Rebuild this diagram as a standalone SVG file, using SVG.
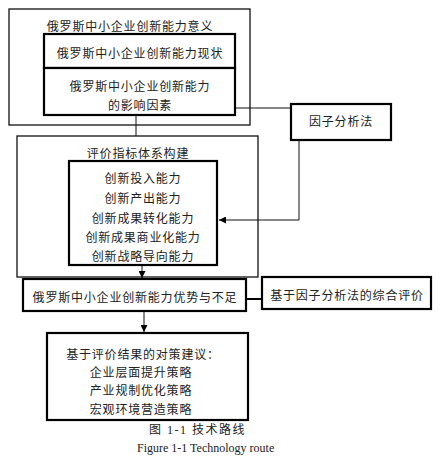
<svg xmlns="http://www.w3.org/2000/svg" width="442" height="467" viewBox="0 0 442 467">
<defs>
<style>
.t{font-family:"Noto Sans CJK SC","Liberation Sans",sans-serif;font-size:12px;letter-spacing:0.8px;fill:#222;text-anchor:middle;dominant-baseline:central}
.thin{fill:#fff;stroke:#111;stroke-width:1.3}
.thick{fill:#fff;stroke:#000;stroke-width:2.2}
.ln{fill:none;stroke:#111;stroke-width:1}
.cap{font-family:"Liberation Serif","Noto Sans CJK SC",serif;font-size:12px;fill:#222;dominant-baseline:central}
</style>
<marker id="arr" viewBox="0 0 10 10" refX="10" refY="5" markerWidth="7" markerHeight="7" markerUnits="userSpaceOnUse" orient="auto">
<path d="M0,0 L10,5 L0,10 Z" fill="#000"/>
</marker>
</defs>
<g id="significance">
<rect class="thin" x="9" y="9" width="241" height="116"/>
<text class="t" x="130" y="25">俄罗斯中小企业创新能力意义</text>
</g>
<g id="status">
<rect class="thick" x="44" y="34" width="191" height="34"/>
<text class="t" x="140" y="52">俄罗斯中小企业创新能力现状</text>
</g>
<g id="factors">
<rect class="thick" x="44" y="68" width="191" height="47"/>
<text class="t" x="140" y="85">俄罗斯中小企业创新能力</text>
<text class="t" x="140" y="104">的影响因素</text>
</g>
<g id="factor-analysis">
<rect class="thick" x="291" y="104" width="100" height="36"/>
<text class="t" x="341" y="120">因子分析法</text>
</g>
<g id="index-system">
<rect class="thin" x="17" y="136" width="241" height="141"/>
<text class="t" x="138" y="152">评价指标体系构建</text>
</g>
<g id="indicators">
<rect class="thick" x="69" y="161" width="148" height="104"/>
<text class="t" x="143" y="177">创新投入能力</text>
<text class="t" x="143" y="197">创新产出能力</text>
<text class="t" x="143" y="217">创新成果转化能力</text>
<text class="t" x="143" y="236">创新成果商业化能力</text>
<text class="t" x="143" y="255">创新战略导向能力</text>
</g>
<g id="strengths">
<rect class="thick" x="23" y="279" width="223" height="32"/>
<text class="t" x="135" y="296">俄罗斯中小企业创新能力优势与不足</text>
</g>
<g id="evaluation">
<rect class="thick" x="262" y="277" width="169" height="32"/>
<text class="t" x="347" y="294">基于因子分析法的综合评价</text>
</g>
<g id="suggestions">
<rect class="thick" x="47" y="333" width="201" height="87"/>
<text class="t" x="143" y="353">基于评价结果的对策建议：</text>
<text class="t" x="141" y="371">企业层面提升策略</text>
<text class="t" x="141" y="389">产业规制优化策略</text>
<text class="t" x="141" y="408">宏观环境营造策略</text>
</g>
<g id="connectors">
<line class="ln" x1="136" y1="116" x2="136" y2="136"/>
<polyline class="ln" points="236,108 290,108"/>
<polyline class="ln" points="299,141 299,220 219,220" marker-end="url(#arr)"/>
<line class="ln" x1="142" y1="266" x2="142" y2="278" marker-end="url(#arr)"/>
<line x1="247" y1="299" x2="261" y2="299" stroke="#000" stroke-width="2"/>
<line class="ln" x1="144" y1="312" x2="144" y2="332" marker-end="url(#arr)"/>
</g>
<g id="caption">
<text class="cap" x="149" y="430" letter-spacing="1.5">图 1-1  技术路线</text>
<text class="cap" x="137" y="448">Figure 1-1 Technology route</text>
</g>
</svg>
